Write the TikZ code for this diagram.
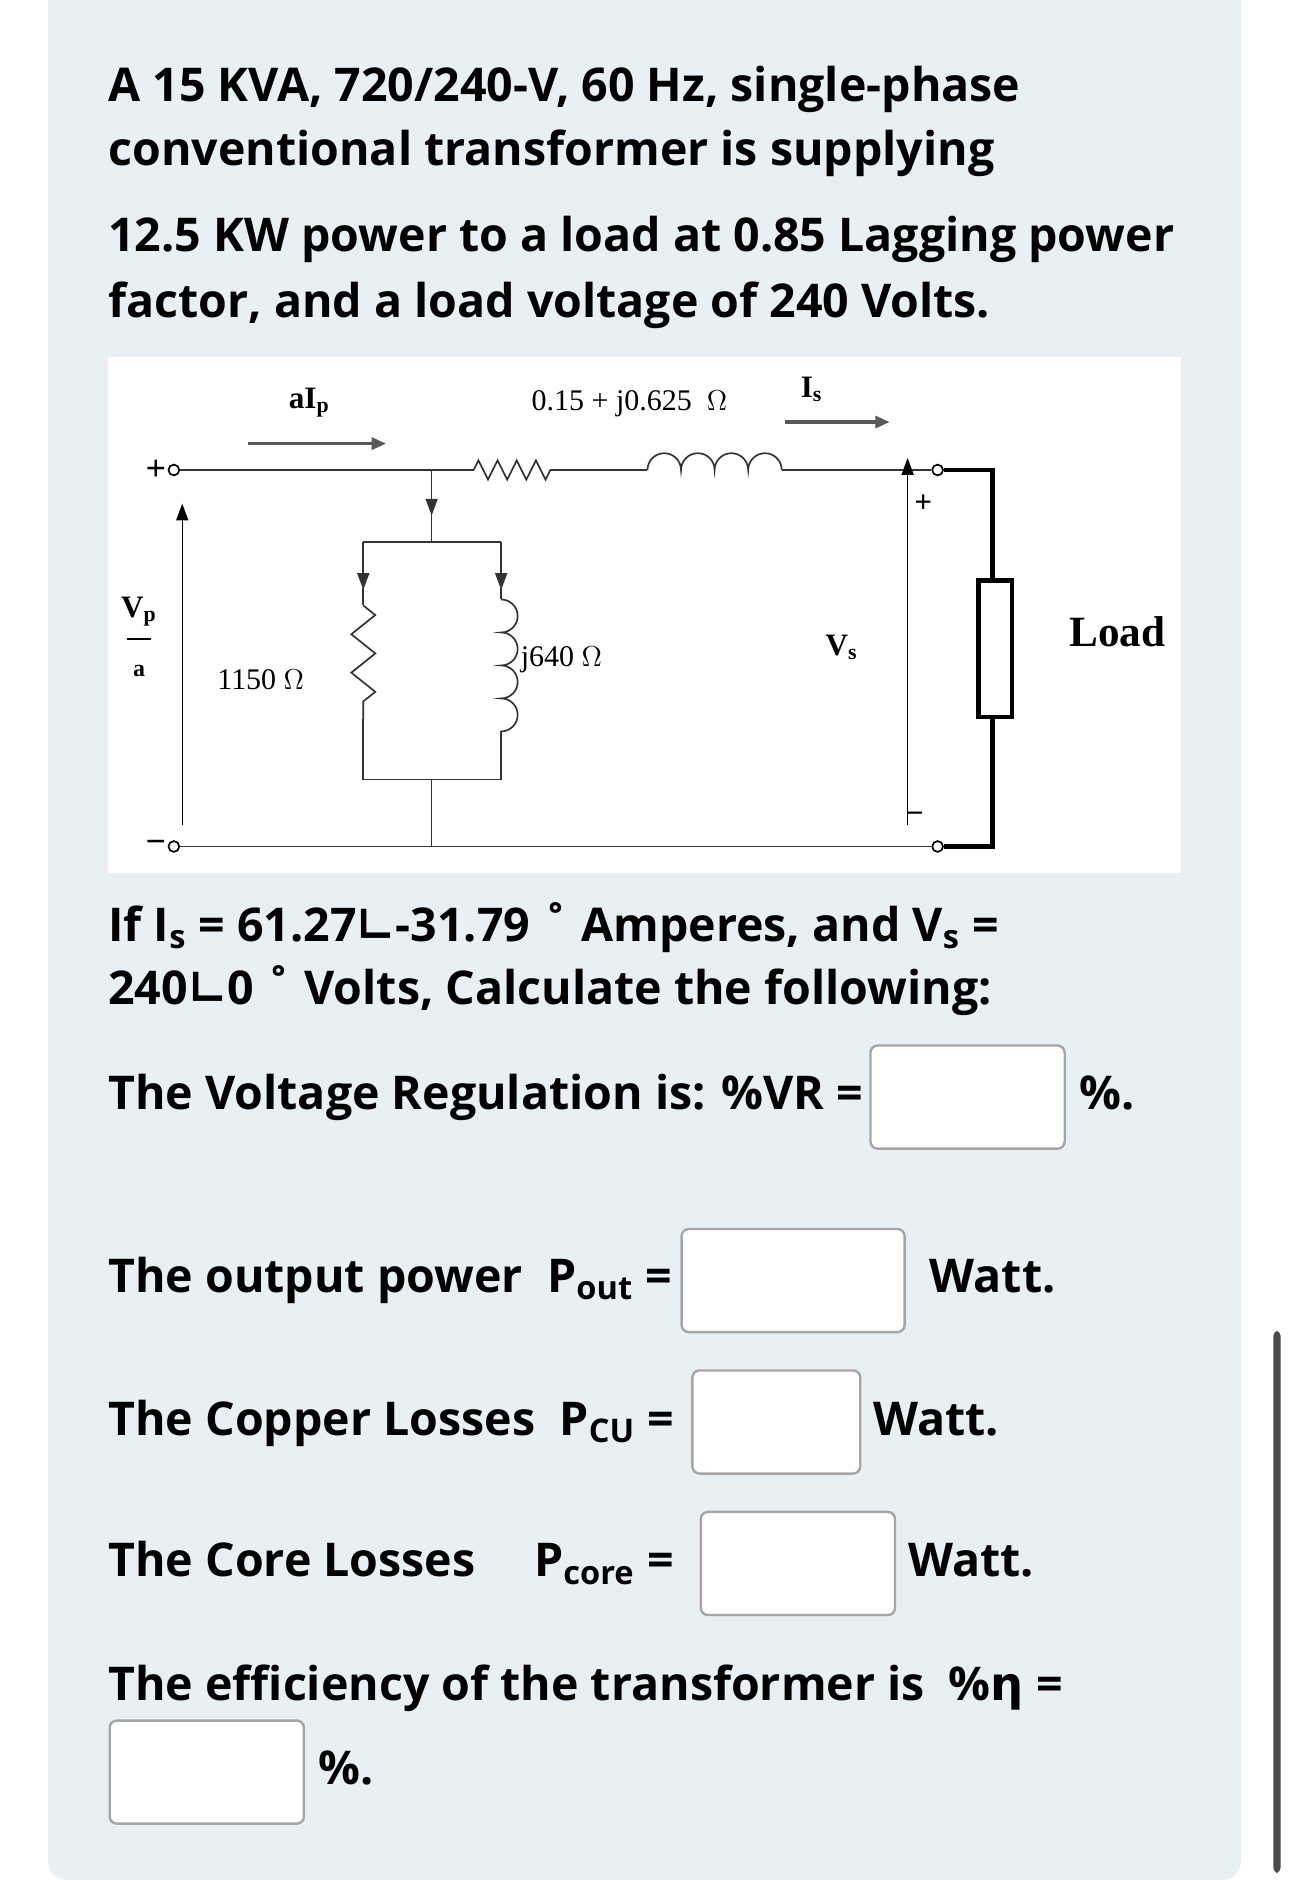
\documentclass[tikz,border=0pt]{standalone}
\usepackage{fontspec}
\setmainfont{Open Sans}
\newfontfamily\circfont{Liberation Serif}
\newfontfamily\symfont{DejaVu Sans}
\usetikzlibrary{arrows.meta,decorations.pathmorphing}
\definecolor{panel}{HTML}{E8F0F3}
\tikzset{
 txt/.style={anchor=base west,inner sep=0,font=\fontsize{19.4}{22}\selectfont\bfseries},
 ansbox/.style={draw=gray!70,fill=white,rounded corners=3pt,line width=1pt},
 wire/.style={line width=0.7pt,draw=black!80},
 cl/.style={font=\circfont\bfseries\fontsize{13}{15}\selectfont,inner sep=0},
 arr/.style={-{Triangle[length=6pt,width=5pt]},line width=1.3pt,gray!70!black},
 term/.style={circle,draw,inner sep=0,minimum size=4.5pt,line width=0.7pt,fill=white},
 zig/.style={decorate,decoration={zigzag,segment length=8pt,amplitude=4pt}}
}
\begin{document}
\begin{tikzpicture}[x=0.5pt,y=-0.5pt]
\useasboundingbox (0,0) rectangle (1080,1568);
\fill[white] (0,0) rectangle (1080,1568);
\fill[panel,rounded corners=8pt] (40,-20) rectangle (1035,1568);
\fill[black!70,rounded corners=2pt] (1062,1110) rectangle (1068,1562);
% header text
\node[txt] (t1) at (90,85) {A 15 KVA, 720/240-V, 60 Hz, single-phase};
\node[txt] (t2) at (90,138) {conventional transformer is supplying};
\node[txt] (t3) at (90,210) {12.5 KW power to a load at 0.85 Lagging power};
\node[txt] (t4) at (90,265) {factor, and a load voltage of 240 Volts.};
% circuit
\fill[white] (90,298) rectangle (985,728);
\node[term] (tpl) at (145,392) {};
\node[term] (tml) at (145,706) {};
\node[term] (tpr) at (782,392) {};
\node[term] (tmr) at (782,706) {};
\node[cl,font=\circfont\bfseries\fontsize{15}{15}\selectfont,anchor=east] (plus1) at (139,392) {+};
\node[cl,font=\circfont\bfseries\fontsize{15}{15}\selectfont,anchor=east] (minus1) at (139,706) {−};
\coordinate (j1) at (360,392);
\coordinate (r1a) at (395,392); \coordinate (r1b) at (462,392);
\coordinate (l1a) at (540,392); \coordinate (l1b) at (652,392);
\draw[wire] (tpl) -- (r1a);
\draw[wire,zig] (r1a) -- (r1b);
\draw[wire] (r1b) -- (l1a);
\draw[wire] (l1a) arc[start angle=180,end angle=360,radius=14]
  arc[start angle=180,end angle=360,radius=14]
  arc[start angle=180,end angle=360,radius=14]
  arc[start angle=180,end angle=360,radius=14];
\draw[wire] (l1b) -- (tpr);
\draw[wire] (tml) -- (tmr);
% shunt branch
\draw[wire,-{Triangle[length=7pt,width=5pt]}] (j1) -- (360,430);
\draw[wire] (360,428) -- (360,452) -- (303,452) (360,452) -- (418,452);
\draw[wire,-{Triangle[length=7pt,width=5pt]}] (303,452) -- (303,492);
\draw[wire,-{Triangle[length=7pt,width=5pt]}] (418,452) -- (418,492);
\draw[wire] (303,490) -- (303,505);
\draw[wire,zig,decoration={amplitude=5pt,segment length=16pt}] (303,505) -- (303,600);
\draw[wire] (303,600) -- (303,650) -- (418,650) -- (418,610);
\draw[wire] (418,490) -- (418,500);
\draw[wire] (418,500) arc[start angle=-90,end angle=90,radius=13.75]
  arc[start angle=-90,end angle=90,radius=13.75]
  arc[start angle=-90,end angle=90,radius=13.75]
  arc[start angle=-90,end angle=90,radius=13.75];
\draw[wire] (360,650) -- (360,706);
% load
\draw[line width=2pt] (tpr) -- (828,392) -- (828,483);
\draw[line width=2pt] (828,600) -- (828,706) -- (tmr);
\node[draw,line width=2pt,minimum width=14pt,minimum height=57pt,inner sep=0] (load) at (830,541) {};
\node[cl,font=\circfont\bfseries\fontsize{18}{20}\selectfont] (loadl) at (932,527) {Load};
% arrows & labels
\draw[arr] (207,370) -- (322,370);
\node[cl] (aip) at (258,336) {aI\textsubscript{p}};
\node[cl,font=\circfont\fontsize{12.5}{15}\selectfont] (zser) at (525,337) {0.15 + j0.625\ \ $\Omega$};
\node[cl] (isl) at (677,325) {I\textsubscript{s}};
\draw[arr] (655,352) -- (742,352);
\draw[-{Triangle[length=7pt,width=5pt]},line width=0.6pt] (152,688) -- (152,420);
\node[cl] (vp) at (116,510) {V\textsubscript{p}};
\draw[line width=0.8pt] (106,533) -- (126,533);
\node[cl,font=\circfont\bfseries\fontsize{10}{10}\selectfont] (al) at (116,560) {a};
\draw[-{Triangle[length=7pt,width=5pt]},line width=0.6pt] (757,688) -- (757,382);
\node[cl] (vpl) at (770,420) {+};
\node[cl] (vmi) at (763,682) {−};
\node[cl] (vs) at (702,540) {V\textsubscript{s}};
\node[cl,anchor=east,font=\circfont\fontsize{12.5}{15}\selectfont] (r1150) at (254,567) {1150 $\Omega$};
\node[cl,anchor=west,font=\circfont\fontsize{12.5}{15}\selectfont] (j640) at (434,550) {j640 $\Omega$};
% question text
\node[txt] (q1) at (90,785) {If  I\textsubscript{s} = 61.27{\symfont ∟}-31.79 ˚ Amperes, and V\textsubscript{s} =};
\node[txt] (q2) at (90,838) {240{\symfont ∟}0 ˚ Volts,  Calculate the following:};
\node[txt] (q3) at (90,925) {The Voltage Regulation is: \%VR =};
\node[ansbox,minimum width=81pt,minimum height=43pt] (b1) at (807,915) {};
\node[txt] (q3b) at (900,925) {\%.};
\node[txt] (q4) at (90,1078) {The output power \ P\textsubscript{out} =};
\node[ansbox,minimum width=93pt,minimum height=43pt] (b2) at (661.5,1068) {};
\node[txt] (q4b) at (775,1078) {Watt.};
\node[txt] (q5) at (90,1197) {The Copper Losses \ P\textsubscript{CU} =};
\node[ansbox,minimum width=70pt,minimum height=43pt] (b3) at (647.5,1186) {};
\node[txt] (q5b) at (728,1197) {Watt.};
\node[txt] (q6) at (90,1315) {The Core Losses \quad P\textsubscript{core} =};
\node[ansbox,minimum width=81pt,minimum height=43pt] (b4) at (665.5,1304) {};
\node[txt] (q6b) at (757,1315) {Watt.};
\node[txt] (q7) at (90,1418) {The efficiency of the transformer is \ \%{\symfont η} =};
\node[ansbox,minimum width=81pt,minimum height=43pt] (b5) at (172.5,1478) {};
\node[txt] (q7b) at (265,1488) {\%.};
\end{tikzpicture}
\end{document}
